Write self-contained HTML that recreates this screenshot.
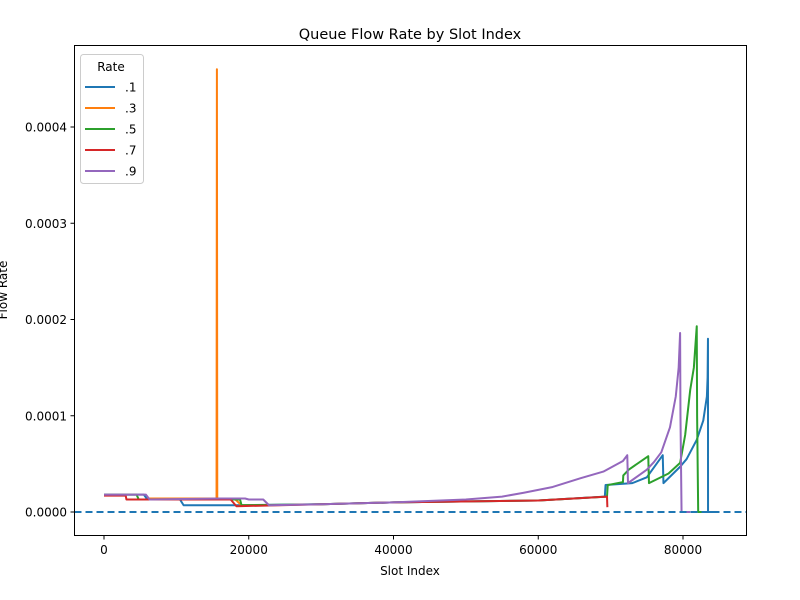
<!DOCTYPE html>
<html><head><meta charset="utf-8"><style>
body{margin:0;background:#fff;}
svg{display:block;font-family:"DejaVu Sans","Liberation Sans",sans-serif;}
</style></head><body>
<svg id="chart" width="800" height="600" xmlns="http://www.w3.org/2000/svg">
<rect width="800" height="600" fill="#fff"/>
<text x="410" y="39" font-size="14.5" text-anchor="middle">Queue Flow Rate by Slot Index</text>
<g id="plot"></g>
<g id="xt"></g>
<g id="yt"></g>
<text x="410" y="575" font-size="12" text-anchor="middle">Slot Index</text>
<text transform="translate(7,290) rotate(-90)" font-size="12" text-anchor="middle">Flow Rate</text>
<rect x="74.5" y="45.5" width="672" height="490" fill="none" stroke="#000" stroke-width="1"/>
<g id="legend"></g>
</svg>
<script>
const xTicks=[0,20000,40000,60000,80000];
const xTickLabels=["0","20000","40000","60000","80000"];
const yTicks=[0,0.0001,0.0002,0.0003,0.0004];
const yTickLabels=["0.0000","0.0001","0.0002","0.0003","0.0004"];
const seriesNames=[".1",".3",".5",".7",".9"];
const seriesColors=["#1f77b4","#ff7f0e","#2ca02c","#d62728","#9467bd"];
// values in units of 1e-6
const s1=[[0,18],[5500,18],[6000,13],[10500,13],[11000,7],[18000,7],[30000,8],[40000,10],[60000,12],[69200,16],[69300,28],[73000,30],[75000,36],[77200,59],[77300,30],[79600,47],[80500,55],[81900,75],[82800,95],[83300,120],[83400,140],[83450,180],[83460,0],[85000,0]];
const s3=[[6000,14],[15550,14],[15600,460],[15650,14],[18000,14],[19000,7],[22000,7]];
const s5=[[0,18],[4500,18],[4800,13],[18000,13],[18800,13],[19000,7],[30000,8],[40000,10],[60000,12],[69500,16],[69600,28],[71700,31],[71750,38],[72500,44],[75200,58],[75300,30],[78000,40],[79600,51],[80300,80],[81000,127],[81500,150],[81900,193],[81950,100],[82100,0],[83000,0]];
const s7=[[0,17],[3000,17],[3100,13],[17500,13],[18300,6],[30000,8],[40000,10],[60000,12],[69500,16],[69550,5]];
const s9=[[0,18],[5800,18],[6300,13],[16000,14],[19500,14],[20000,13],[22000,13],[22800,7],[30000,8],[40000,10],[50000,13],[55000,16],[58000,20],[62000,26],[65800,35],[69000,42],[71700,53],[72300,59],[72400,30],[75000,44],[76000,52],[77000,62],[78200,88],[79000,120],[79400,150],[79600,186],[79650,100],[79800,0],[81000,0]];
const seriesData=[s1,s3,s5,s7,s9];
const NS="http://www.w3.org/2000/svg";
function sx(v){return 104+v*(144.75/20000);}
function sy(v){return 512-v*(96.25/0.0001);}
function mk(tag,attrs,parent){const e=document.createElementNS(NS,tag);for(const k in attrs)e.setAttribute(k,attrs[k]);parent.appendChild(e);return e;}
const plot=document.getElementById('plot'),xt=document.getElementById('xt'),yt=document.getElementById('yt'),lg=document.getElementById('legend');
xTicks.forEach((t,i)=>{const x=sx(t);
 const l=mk('line',{x1:x,x2:x,y1:535.5,y2:539.5,stroke:'#000'},xt);
 
 
 const tx=mk('text',{x:x,y:554,'font-size':12,'text-anchor':'middle'},xt);tx.textContent=xTickLabels[i];
 
 });
yTicks.forEach((t,i)=>{const y=sy(t);
 const l=mk('line',{x1:70.5,x2:74.5,y1:y,y2:y,stroke:'#000'},yt);
 
 
 const tx=mk('text',{x:67,y:y+4.5,'font-size':12,'text-anchor':'end'},yt);tx.textContent=yTickLabels[i];
 
 });
const cp=mk('clipPath',{id:'cp'},plot);mk('rect',{x:74.5,y:45.5,width:672,height:490},cp);
const g=mk('g',{'clip-path':'url(#cp)'},plot);
seriesData.forEach((d,i)=>{
 const p=mk('polyline',{points:d.map(q=>sx(q[0])+','+sy(q[1]*1e-6)).join(' '),fill:'none',stroke:seriesColors[i],'stroke-width':2,'stroke-linejoin':'round'},g);
 
 });
const zl=mk('line',{x1:74.5,x2:746.5,y1:sy(0),y2:sy(0),stroke:'#1f77b4','stroke-width':2,'stroke-dasharray':'7,4'},g);


const box=mk('rect',{x:80.5,y:54.5,width:63,height:129,rx:3,fill:'#fff',stroke:'#ccc'},lg);


const lt=mk('text',{x:111,y:71,'font-size':12,'text-anchor':'middle'},lg);lt.textContent='Rate';


seriesNames.forEach((n,i)=>{const y=87+i*21;
 const e=mk('g',{},lg);
 
 
 mk('line',{x1:85,x2:115,y1:y,y2:y,stroke:seriesColors[i],'stroke-width':2},e);
 const t=mk('text',{x:125,y:y+4.5,'font-size':12},e);t.textContent=n;});
</script>
</body></html>
